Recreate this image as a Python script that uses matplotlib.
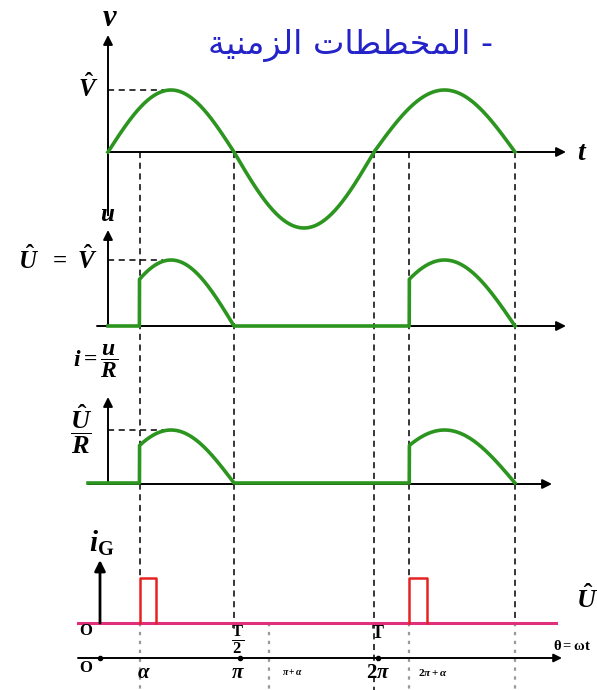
import numpy as np
import matplotlib.pyplot as plt

plt.rcParams['mathtext.fontset'] = 'custom'
plt.rcParams['mathtext.rm'] = 'Liberation Serif:bold'
plt.rcParams['mathtext.it'] = 'Liberation Serif:bold:italic'
plt.rcParams['mathtext.bf'] = 'Liberation Serif:bold'

# firing angle and gate pulse width (rad)
alpha = np.pi / 4
pulse_width = 0.4

# angles marked on the theta axis
mark_theta = [alpha, np.pi, np.pi + alpha, 2 * np.pi, 2 * np.pi + alpha]
mark_labels = [r'$\alpha$', r'$\pi$', r'$\pi+\alpha$', r'$2\pi$', r'$2\pi+\alpha$']
mark_sizes = [15, 15, 7, 15, 8]

# horizontal placement of theta on the page (hand drawn spacing)
knot_theta = [-0.5, 0, np.pi, 2 * np.pi, 3 * np.pi]
knot_px = [88, 108, 234, 374, 515]


def px(th):
    return np.interp(th, knot_theta, knot_px)


# each trace: baseline row and pixels per unit
V_ROW, V_UP, V_DOWN = 152, 62, 76
U_ROW, U_SCALE = 326, 66
I_ROW, I_SCALE = 483, 53
G_ROW, G_SCALE = 623, 45
AXIS_ROW = 658

theta = np.linspace(0, 3 * np.pi, 3000)
v = np.sin(theta)
on = (np.mod(theta, 2 * np.pi) >= alpha) & (np.mod(theta, 2 * np.pi) < np.pi)
u = np.where(on, np.sin(theta), 0.0)
theta_i = np.linspace(-0.5, 3 * np.pi, 3000)
on_i = (np.mod(theta_i, 2 * np.pi) >= alpha) & (np.mod(theta_i, 2 * np.pi) < np.pi) & (theta_i >= 0)
i_r = np.where(on_i, np.sin(theta_i), 0.0)
gate_starts = [alpha, 2 * np.pi + alpha]

GREEN = '#2c951f'

fig = plt.figure(figsize=(5.97, 6.90), dpi=100)
ax = fig.add_axes([0, 0, 1, 1])
ax.set_xlim(0, 597)
ax.set_ylim(690, 0)
ax.axis('off')


def arrow(x0, y0, x1, y1, lw=1.4, ms=14):
    ax.annotate('', xy=(x1, y1), xytext=(x0, y0),
                arrowprops=dict(arrowstyle='-|>', lw=lw, color='k',
                                mutation_scale=ms, shrinkA=0, shrinkB=0))


# guide lines from each switching angle
dash = (0, (4, 3))
dot = (0, (1.5, 2.5))
black_guides = [(alpha, 578), (np.pi, 630), (2 * np.pi, 690), (2 * np.pi + alpha, 578), (3 * np.pi, 623)]
for th, yb in black_guides:
    ax.plot([px(th)] * 2, [V_ROW, yb], ls=dash, lw=1.1, color='k', zorder=1)
for th in [alpha, np.pi + alpha, 2 * np.pi + alpha, 3 * np.pi]:
    ax.plot([px(th)] * 2, [G_ROW, 690], ls=dot, lw=1.6, color='#999999', zorder=1)

# supply voltage
ax.plot([108, 108], [215, V_ROW], color='k', lw=1.3)
arrow(108, 215, 108, 35)
arrow(108, V_ROW, 566, V_ROW)
ax.plot(px(theta), V_ROW - np.where(v > 0, v * V_UP, v * V_DOWN), color=GREEN, lw=2.6, zorder=3)
ax.plot([108, px(np.pi / 2) - 5], [V_ROW - V_UP] * 2, ls=dash, lw=1.1, color='k')
ax.text(110, 18, r'$v$', fontsize=22, ha='center', va='center')
ax.text(582, 152, r'$t$', fontsize=20, ha='center', va='center')
ax.text(88, 88, r'$\hat{V}$', fontsize=18, ha='center', va='center')

# load voltage
arrow(108, U_ROW, 108, 230)
arrow(97, U_ROW, 566, U_ROW)
ax.plot(px(theta), U_ROW - u * U_SCALE, color=GREEN, lw=2.6, zorder=3)
ax.plot([108, px(np.pi / 2) - 8], [U_ROW - U_SCALE] * 2, ls=dash, lw=1.1, color='k')
ax.text(108, 214, r'$u$', fontsize=18, ha='center', va='center')
ax.text(58, 260, r'$\hat{U}\ \ =\ \hat{V}$', fontsize=18, ha='center', va='center')

# load current
arrow(108, I_ROW, 108, 397)
arrow(88, I_ROW + 1, 552, I_ROW + 1)
ax.plot(px(theta_i), I_ROW - i_r * I_SCALE, color=GREEN, lw=2.6, zorder=3)
ax.plot([108, px(np.pi / 2) - 3], [I_ROW - I_SCALE] * 2, ls=dash, lw=1.1, color='k')
ax.text(96, 361, r'$i = \dfrac{u}{R}$', fontsize=17, ha='center', va='center')
ax.text(81, 429, r'$\dfrac{\hat{U}}{R}$', fontsize=19, ha='center', va='center')

# gate current pulses
arrow(100, G_ROW, 100, 560, lw=2.0, ms=16)
ax.plot([78, 556], [G_ROW, G_ROW], color='#e0307c', lw=2.2, zorder=2)
for th in gate_starts:
    ax.plot(px([th, th, th + pulse_width, th + pulse_width]),
            G_ROW - np.array([0, 1, 1, 0]) * G_SCALE, color='#e52222', lw=1.8, zorder=3)
ax.text(102, 543, r'$i_{\mathrm{G}}$', fontsize=21, ha='center', va='center')
ax.text(86, 631, 'O', fontsize=12, fontweight='bold', family='Liberation Serif', ha='center', va='center')
ax.text(px(np.pi) + 4, 640, r'$\frac{\mathrm{T}}{2}$', fontsize=17, ha='center', va='center')
ax.text(px(2 * np.pi) + 4, 634, 'T', fontsize=13, fontweight='bold', family='Liberation Serif', ha='center', va='center')

# theta axis
arrow(78, AXIS_ROW, 562, AXIS_ROW, lw=1.4, ms=12)
ax.plot([100, px(np.pi) + 6, px(2 * np.pi) + 4], [AXIS_ROW] * 3, 'o', color='k', ms=3)
ax.text(86, 668, 'O', fontsize=12, fontweight='bold', family='Liberation Serif', ha='center', va='center')
for th, lab, fs in zip(mark_theta, mark_labels, mark_sizes):
    ax.text(px(th) + (24 if fs < 10 else 4), 672, lab, fontsize=fs, ha='center', va='center')
ax.text(553, 645, r'$\mathrm{\theta=\omega t}$', fontsize=10.5, ha='left', va='center')
ax.text(576, 600, r'$\hat{U}$', fontsize=19, ha='left', va='center')

# title
title = '\uFE94\uFEF4\uFEE8\uFEE3\uFEB0\uFEDF\uFE8D \uFE95\uFE8E\uFEC4\uFEC4\uFEA8\uFEE4\uFEDF\uFE8D -'
ax.text(350, 46, title, fontsize=24, color='#2323c8', family='DejaVu Sans', ha='center', va='center')

fig.savefig('out.png', dpi=100)
